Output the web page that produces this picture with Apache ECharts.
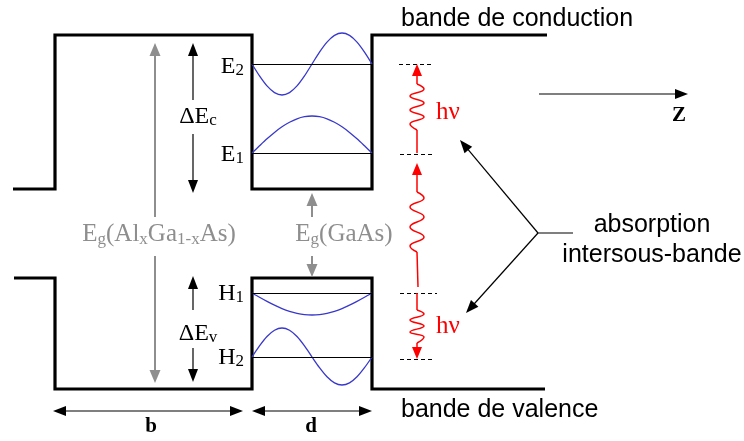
<!DOCTYPE html>
<html><head><meta charset="utf-8">
<script src="https://cdn.jsdelivr.net/npm/echarts@6/dist/echarts.min.js"></script>
<style>html,body{margin:0;padding:0;background:#fff}#c{width:744px;height:441px}</style>
</head><body><div id="c"></div>
<script>
// ---- data (diagram coordinates, y grows downward) ----
const conductionBand = [[13,189],[55,189],[55,35],[252,35],[252,189],[372,189],[372,35],[547,35]];
const valenceBand    = [[14,278],[55,278],[55,389],[252,389],[252,278],[372,278],[372,389],[545,389]];
const wellLeft = 252, wellRight = 372;
const levelNames = ['E2','E1','H1','H2'];
const levelY = [64, 153, 293, 357];
const waveX  = [252,259.5,267,274.5,282,289.5,297,304.5,312,319.5,327,334.5,342,349.5,357,364.5,372];
const waveE2 = [64,75.9,85.9,92.6,95,92.6,85.9,75.9,64,52.1,42.1,35.4,33,35.4,42.1,52.1,64];
const waveE1 = [153,145.8,138.8,132.4,126.8,122.3,118.8,116.7,116,116.7,118.8,122.3,126.8,132.4,138.8,145.8,153];
const waveH1 = [293,297.3,301.4,305.2,308.6,311.3,313.3,314.6,315,314.6,313.3,311.3,308.6,305.2,301.4,297.3,293];
const waveH2 = [357,345.9,336.5,330.2,328,330.2,336.5,345.9,357,367.7,376.8,382.9,385,382.9,376.8,367.7,357];
const dashedMarks = [[399,64,433,64],[400,154,433,154],[400,293,437,293],[400,359,433,359]];
// arrows: x1,y1,x2,y2,headAtStart,headAtEnd
const blackArrows = [
  [193,100,193,43,0,1],[193,134,193,193,0,1],
  [193,310,193,276,0,1],[193,348,193,382,0,1],
  [53,411,243,411,1,1],[252,411,372,411,1,1],
  [539,94,688,94,0,1],
  [538,233,460,140,0,1],[538,233,466,313,0,1],[538,233,573,233,0,0]
];
const grayArrows = [[155,217,155,43,0,1],[155,256,155,383,0,1],[312,217,312,193,0,1],[312,256,312,277,0,1]];
const redArrows = [
  [417,130,417,153,0,0],[417,84,417,64,0,1],
  [417,192,417,163,0,1],[417,252,418,287,0,0],
  [417,293,417,310,0,0],[417,343,417,359,0,1]
];
const squiggleUp   = [[417,84],[424,89],[410,96],[424,103],[410,110],[424,117],[410,124],[417,130]];
const squiggleMid  = [[417,192],[424,198],[410,207],[424,217],[410,227],[424,237],[410,246],[417,252]];
const squiggleLow  = [[417,310],[424,314],[410,320],[424,326],[410,332],[424,337],[417,343]];
const labelText = [
  'bande de conduction','bande de valence','absorption','intersous-bande',
  '{m|E}{s|2}','{m|E}{s|1}','{m|H}{s|1}','{m|H}{s|2}',
  '{m|ΔE}{s|c}','{m|ΔE}{s|v}',
  '{m|E}{s|g}{m|(Al}{s|x}{m|Ga}{s|1-x}{m|As)}','{m|E}{s|g}{m|(GaAs)}',
  'hν','hν','Z','b','d'
];
const labelX = [401,401,652,652,244,244,244,244,198,198,159,344,436,436,679,151,311];
const labelY = [19,410,225,255,67,155,294,358,117,334,235,235,112,326,116,427,427];
const labelKind = ['sansL','sansL','sansC','sansC','level','level','level','level','delta','delta','gray','gray','red','red','bold','bold','bold'];

// ---- styles ----
const SERIF = '"Liberation Serif","Times New Roman",serif';
const SANS = '"Liberation Sans",Arial,sans-serif';
const GRAY = '#8e8e8e', RED = '#ff0000', BLUE = '#3838cc';
function richFor(color, size, sub, pad) {
  return {
    m: {fontFamily: SERIF, fontSize: size, fill: color, lineHeight: size + 1, verticalAlign: 'top'},
    s: {fontFamily: SERIF, fontSize: sub, fill: color, lineHeight: sub, padding: [pad,0,0,0], verticalAlign: 'bottom'}
  };
}
const kindStyle = {
  sansL: {fontFamily: SANS, fontSize: 25, fill: '#000', align: 'left'},
  sansC: {fontFamily: SANS, fontSize: 25, fill: '#000', align: 'center'},
  level: {align: 'right', rich: richFor('#000', 24, 17, 12)},
  delta: {align: 'center', rich: richFor('#000', 24, 17, 14)},
  gray:  {align: 'center', rich: richFor(GRAY, 25, 17, 14)},
  red:   {fontFamily: SERIF, fontSize: 25, fill: RED, align: 'left'},
  bold:  {fontFamily: SERIF, fontSize: 21, fontWeight: 'bold', fill: '#000', align: 'center'}
};

function arrowRenderer(color, width, headL, headW) {
  return function (params, api) {
    const a = api.coord([api.value(0), api.value(1)]);
    const b = api.coord([api.value(2), api.value(3)]);
    const hs = api.value(4), he = api.value(5);
    const dx = b[0]-a[0], dy = b[1]-a[1], len = Math.hypot(dx,dy);
    const ux = dx/len, uy = dy/len, nx = -uy, ny = ux;
    const s = hs ? [a[0]+ux*headL*0.8, a[1]+uy*headL*0.8] : a;
    const e = he ? [b[0]-ux*headL*0.8, b[1]-uy*headL*0.8] : b;
    const children = [{type:'line', shape:{x1:s[0],y1:s[1],x2:e[0],y2:e[1]}, style:{stroke:color, lineWidth:width}}];
    function head(t, dirx, diry) {
      return {type:'polygon', shape:{points:[
        [t[0], t[1]],
        [t[0]-dirx*headL + nx*headW/2, t[1]-diry*headL + ny*headW/2],
        [t[0]-dirx*headL - nx*headW/2, t[1]-diry*headL - ny*headW/2]
      ]}, style:{fill:color}};
    }
    if (he) children.push(head(b, ux, uy));
    if (hs) children.push(head(a, -ux, -uy));
    return {type:'group', children};
  };
}
function segRenderer(color, width, dash) {
  return function (params, api) {
    const a = api.coord([api.value(0), api.value(1)]);
    const b = api.coord([api.value(2), api.value(3)]);
    const ya = Math.round(a[1]) + 0.5, yb = Math.round(b[1]) + 0.5;
    return {type:'line', shape:{x1:a[0],y1:ya,x2:b[0],y2:yb}, style:{stroke:color, lineWidth:width, lineDash:dash}};
  };
}
function textRenderer(params, api) {
  const i = params.dataIndex;
  const p = api.coord([labelX[i], labelY[i]]);
  const st = Object.assign({text: labelText[i], x: p[0], y: p[1], verticalAlign: 'middle'}, kindStyle[labelKind[i]]);
  return {type:'text', style: st};
}

const levelSegs = levelY.map(y => [wellLeft, y, wellRight, y]);
const zip = ys => waveX.map((x,i) => [x, ys[i]]);
function lineSeries(data, color, width, smooth) {
  return {type:'line', data, showSymbol:false, smooth: smooth || false, silent:true, animation:false,
          lineStyle:{color, width, join:'miter', cap:'butt'}, z: 3};
}
function customSeries(data, renderItem, z) {
  return {type:'custom', data, renderItem, silent:true, animation:false, clip:false,
          encode:{x:[0,2], y:[1,3]}, z: z || 4};
}

const chart = echarts.init(document.getElementById('c'), null, {renderer:'canvas'});
chart.setOption({
  backgroundColor: '#fff',
  animation: false,
  grid: {left:0, right:0, top:0, bottom:0},
  xAxis: {type:'value', min:0, max:744, show:false},
  yAxis: {type:'value', min:0, max:441, inverse:true, show:false},
  series: [
    lineSeries(conductionBand, '#000', 3.2),
    lineSeries(valenceBand, '#000', 3.2),
    customSeries(levelSegs, segRenderer('#000', 1, null)),
    lineSeries(zip(waveE2), BLUE, 1.3, 0.3),
    lineSeries(zip(waveE1), BLUE, 1.3, 0.3),
    lineSeries(zip(waveH1), BLUE, 1.3, 0.3),
    lineSeries(zip(waveH2), BLUE, 1.3, 0.3),
    customSeries(dashedMarks, segRenderer('#000', 1, [4,3])),
    customSeries(blackArrows, arrowRenderer('#000', 1.2, 13, 10)),
    customSeries(grayArrows, arrowRenderer(GRAY, 2, 13, 11)),
    customSeries(redArrows, arrowRenderer(RED, 1.5, 12, 10)),
    lineSeries(squiggleUp, RED, 1.5, 0.5),
    lineSeries(squiggleMid, RED, 1.5, 0.5),
    lineSeries(squiggleLow, RED, 1.5, 0.5),
    {type:'custom', data: labelX.map((x,i)=>[x, labelY[i]]), renderItem: textRenderer, silent:true,
     animation:false, clip:false, encode:{x:0, y:1}, z: 6}
  ]
});
</script></body></html>
